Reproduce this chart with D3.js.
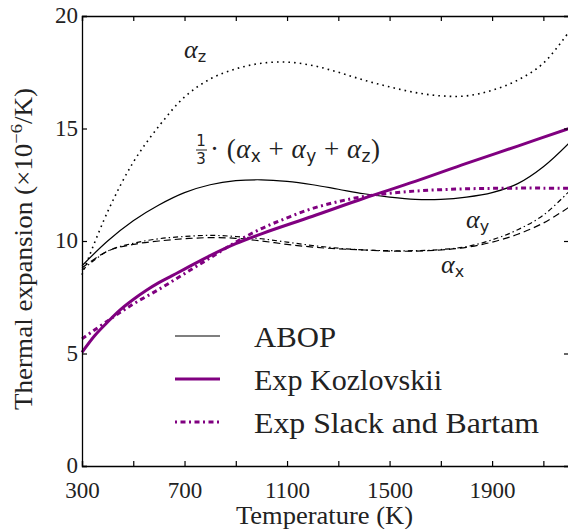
<!DOCTYPE html>
<html><head><meta charset="utf-8">
<script src="https://cdn.jsdelivr.net/npm/d3@7"></script>
<style>body{margin:0;background:#fff}svg{display:block}</style>
</head><body><svg id="c" width="568" height="529"></svg>
<script>
const temps = [300,400,500,600,700,800,900,1000,1100,1200,1300,1400,1500,1600,1700,1800,1900,2000,2100,2200];
const alphaZ = [8.5,11.3,13.5,15.1,16.4,17.2,17.65,17.9,17.95,17.8,17.5,17.15,16.85,16.6,16.45,16.45,16.7,17.15,17.9,19.3];
const alphaX = [8.8,9.55,9.85,10.0,10.1,10.15,10.12,10.0,9.85,9.73,9.65,9.6,9.55,9.55,9.6,9.72,9.95,10.3,10.8,11.5];
const alphaY = [8.7,9.55,9.9,10.1,10.2,10.25,10.2,10.1,9.95,9.8,9.68,9.6,9.57,9.57,9.62,9.75,10.05,10.5,11.15,12.2];
const abop   = [8.9,10.0,10.9,11.6,12.15,12.5,12.68,12.72,12.65,12.5,12.3,12.1,11.95,11.85,11.85,11.95,12.15,12.55,13.3,14.35];
const kozT   = [300,350,400,450,500,550,600,650,700,800,900,1000,1200,1400,1600,1800,2000,2200];
const kozlovskii = [5.05,5.8,6.4,6.95,7.4,7.8,8.15,8.45,8.75,9.35,9.88,10.32,11.1,11.9,12.65,13.45,14.22,15.0];
const slackT = [300,400,500,600,700,800,900,1000,1100,1200,1300,1400,1500,1600,1700,1800,1900,2000,2100,2200];
const slack  = [5.65,6.45,7.2,7.85,8.55,9.25,9.95,10.55,11.03,11.45,11.75,11.98,12.12,12.22,12.28,12.32,12.34,12.35,12.35,12.35];
const xLabelTicks = [300,700,1100,1500,1900];
const yTicks = [0,5,10,15,20];
const legendNames = ["ABOP","Exp Kozlovskii","Exp Slack and Bartam"];

const svg = d3.select("#c");
const L=82, R=569, T=16, B=466;
const x = d3.scaleLinear().domain([300,2200]).range([L,R]);
const y = d3.scaleLinear().domain([0,20]).range([B,T]);
const serif = "'Liberation Serif','DejaVu Serif',serif";
const sans = "'DejaVu Sans','Liberation Sans',sans-serif";

const line = (xs, ys) => d3.line().x((d,i)=>x(xs[i])).y(d=>y(d)).curve(d3.curveCatmullRom.alpha(0.5))(ys);

const g = svg.append("g");
g.append("path").attr("d", line(temps, alphaZ)).attr("fill","none").attr("stroke","#000").attr("stroke-width",1.6).attr("stroke-dasharray","1.6,4.1");
g.append("path").attr("d", line(temps, alphaX)).attr("fill","none").attr("stroke","#000").attr("stroke-width",1.2).attr("stroke-dasharray","7,4");
g.append("path").attr("d", line(temps, alphaY)).attr("fill","none").attr("stroke","#000").attr("stroke-width",1.2).attr("stroke-dasharray","5,3,1.4,3");
g.append("path").attr("d", line(temps, abop)).attr("fill","none").attr("stroke","#000").attr("stroke-width",1.2);
g.append("path").attr("d", line(kozT, kozlovskii)).attr("fill","none").attr("stroke","#800080").attr("stroke-width",3);
g.append("path").attr("d", line(slackT, slack)).attr("fill","none").attr("stroke","#800080").attr("stroke-width",3).attr("stroke-dasharray","5,3.5,2,3.5");

// axes
const minor = d3.range(300,2201,200);
const xb = d3.axisBottom(x).tickValues(minor).tickSize(-5).tickFormat(d=> xLabelTicks.includes(d)? d : "");
const xt = d3.axisTop(x).tickValues(minor).tickSize(-5).tickFormat("");
const yl = d3.axisLeft(y).tickValues(yTicks).tickSize(-5);
const yr = d3.axisRight(y).tickValues(yTicks).tickSize(-5).tickFormat("");
function style(sel){ sel.select(".domain").attr("stroke","#000").attr("stroke-width",1.3);
  sel.selectAll(".tick line").attr("stroke","#000").attr("stroke-width",1.2);
  sel.selectAll("text").attr("font-family",serif).attr("font-size",23).attr("fill","#222"); }
svg.append("g").attr("transform",`translate(0,${B})`).call(xb).call(style).call(s=>s.selectAll("text").attr("dy","0.95em").attr("y",10));
svg.append("g").attr("transform",`translate(0,${T})`).call(xt).call(style);
svg.append("g").attr("transform",`translate(${L},0)`).call(yl).call(style).call(s=>s.selectAll("text").attr("x",-4).attr("dy","0.3em"));
svg.append("g").attr("transform",`translate(${R},0)`).call(yr).call(style);

// axis labels
svg.append("text").attr("x",236).attr("y",524).attr("textLength",177).attr("lengthAdjust","spacingAndGlyphs")
  .attr("font-family",serif).attr("font-size",25).attr("fill","#222").text("Temperature (K)");
const yl2 = svg.append("text").attr("transform","translate(32,410) rotate(-90)").attr("textLength",322).attr("lengthAdjust","spacingAndGlyphs")
  .attr("font-family",serif).attr("font-size",25).attr("fill","#222");
yl2.append("tspan").text("Thermal expansion (×10");
yl2.append("tspan").attr("font-size",17).attr("dy",-10).text("−6");
yl2.append("tspan").attr("dy",10).text("/K)");

// annotations
function alphaLabel(px, py, sub){
  const t = svg.append("text").attr("x",px).attr("y",py).attr("font-family",serif).attr("font-size",26).attr("fill","#222");
  t.append("tspan").attr("font-style","italic").text("α");
  t.append("tspan").attr("font-family",sans).attr("font-size",16).attr("dy",4).text(sub);
}
alphaLabel(184, 58, "z");
alphaLabel(466, 228, "y");
alphaLabel(441, 273, "x");

svg.append("text").attr("x",201).attr("y",146).attr("text-anchor","middle").attr("font-family",sans).attr("font-size",15).attr("fill","#222").text("1");
svg.append("line").attr("x1",196).attr("x2",207).attr("y1",150).attr("y2",150).attr("stroke","#222").attr("stroke-width",1);
svg.append("text").attr("x",201).attr("y",164).attr("text-anchor","middle").attr("font-family",sans).attr("font-size",15).attr("fill","#222").text("3");
const f = svg.append("text").attr("x",210).attr("y",158).attr("textLength",170).attr("lengthAdjust","spacing")
  .attr("font-family",serif).attr("font-size",27).attr("fill","#222");
f.append("tspan").text("· (");
[["x"," + "],["y"," + "],["z",")"]].forEach(([s,after])=>{
  f.append("tspan").attr("font-style","italic").text("α");
  f.append("tspan").attr("font-family",sans).attr("font-size",17).attr("dy",4).text(s);
  f.append("tspan").attr("dy",-4).text(after);
});

// legend
const legY=[336,379,422];
const legW=[82,188,285];
const legStyles=[{c:"#000",w:1.2,d:null},{c:"#800080",w:3,d:null},{c:"#800080",w:3,d:"2,3.5,5,3.5"}];
legendNames.forEach((n,i)=>{
  const s=legStyles[i];
  const l=svg.append("line").attr("x1",175).attr("x2",220).attr("y1",legY[i]).attr("y2",legY[i]).attr("stroke",s.c).attr("stroke-width",s.w);
  if(s.d) l.attr("stroke-dasharray",s.d);
  svg.append("text").attr("x",254).attr("y",legY[i]+11).attr("textLength",legW[i]).attr("lengthAdjust","spacingAndGlyphs")
    .attr("font-family",serif).attr("font-size",30).attr("fill","#222").text(n);
});
</script></body></html>
